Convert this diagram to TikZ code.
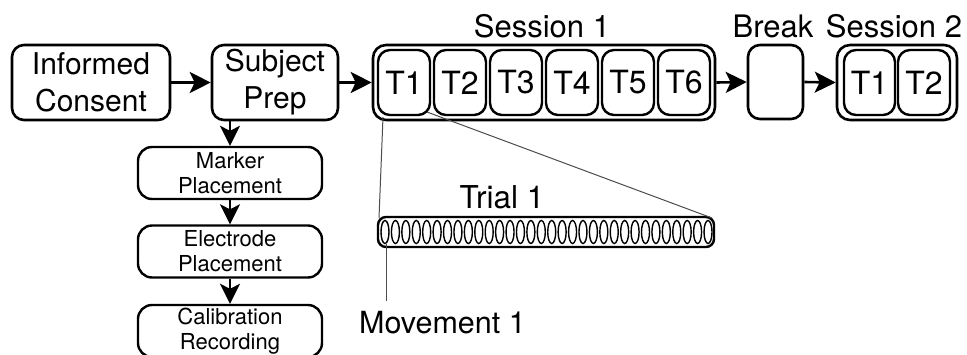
\documentclass[tikz,border=0pt]{standalone}
\usepackage{fontspec}
\setmainfont{TeX Gyre Heros}
\usetikzlibrary{arrows.meta}
\tikzset{
  bigbox/.style={draw, line width=2.6pt, rounded corners=12pt, inner sep=0pt, align=center,
    font=\fontsize{30}{37}\selectfont},
  tbox/.style={draw, line width=2.4pt, rounded corners=12pt, inner sep=0pt,
    minimum width=52pt, minimum height=65pt, font=\fontsize{32}{36}\selectfont},
  outerbox/.style={draw, line width=2.6pt, rounded corners=13pt, inner sep=0pt},
  smallbox/.style={draw, line width=2.4pt, rounded corners=14pt, inner sep=0pt, align=center,
    minimum width=184pt, minimum height=52pt, font=\fontsize{22}{25}\selectfont},
  lbl/.style={anchor=base, inner sep=0pt, font=\fontsize{31}{34}\selectfont},
  bigarrow/.style={line width=2.6pt, -{Stealth[length=21pt, width=21pt, inset=5pt]}},
  smallarrow/.style={line width=2.4pt, -{Stealth[length=20pt, width=20pt, inset=5pt]}},
  thin/.style={line width=1pt, draw=black!70},
}
\begin{document}
\begin{tikzpicture}[x=1pt, y=-1pt]
\useasboundingbox (0,0) rectangle (967,354);
% main row
\node[bigbox, minimum width=158pt, minimum height=75pt] (ic) at (91,82.5) {Informed\\Consent};
\node[bigbox, minimum width=126pt, minimum height=75pt] (sp) at (275,82.5) {Subject\\Prep};
\node[outerbox, minimum width=342pt, minimum height=75pt] (s1) at (544,82.5) {};
\foreach \i/\x in {1/404,2/460,3/516,4/572,5/628,6/684}
  \node[tbox] (a\i) at (\x,82.5) {T\i};
\node[bigbox, minimum width=55pt, minimum height=74pt] (br) at (775.5,82) {};
\node[outerbox, minimum width=120pt, minimum height=75pt] (s2) at (897,82.5) {};
\node[tbox, minimum width=51pt] (b1) at (869.5,82.5) {T1};
\node[tbox] (b2) at (924,82.5) {T2};
% labels
\node[lbl] (l1) at (542,37) {Session 1};
\node[lbl] (l2) at (773,37) {Break};
\node[lbl] (l3) at (894,37) {Session 2};
% arrows main row
\draw[bigarrow] (ic.east) -- (sp.west);
\draw[bigarrow] (sp.east) -- (s1.west);
\draw[bigarrow] (s1.east) -- (br.west);
\draw[bigarrow] (br.east) -- (s2.west);
% prep column
\node[smallbox] (mk) at (230,173) {Marker\\Placement};
\node[smallbox] (el) at (230,251.5) {Electrode\\Placement};
\node[smallbox] (ca) at (230,331) {Calibration\\Recording};
\draw[smallarrow] (sp.south -| mk.north) -- (mk.north);
\draw[smallarrow] (mk.south) -- (el.north);
\draw[smallarrow] (el.south) -- (ca.north);
% trial strip
\node[draw, line width=2.4pt, rounded corners=8pt, minimum width=336pt, minimum height=30pt, inner sep=0pt] (tr) at (546,232) {};
\foreach \k in {0,...,31}
  \draw[line width=1.4pt] (385+\k*10.42,232) ellipse (4pt and 11.5pt);
\node[lbl, font=\fontsize{31.5}{34}\selectfont] (tl) at (502,208) {Trial 1};
\node[lbl, anchor=base west, font=\fontsize{30.5}{34}\selectfont] (mv) at (359,333) {Movement 1};
% zoom lines
\coordinate (t1bl) at (383,117);
\coordinate (t1br) at (427,112);
\coordinate (trtl) at (379,218);
\coordinate (trtr) at (712,218);
\coordinate (m0) at (386,244);
\coordinate (m1) at (386,301);
\draw[thin] (t1bl) -- (trtl);
\draw[thin] (t1br) -- (trtr);
\draw[thin] (m0) -- (m1);
\end{tikzpicture}
\end{document}
